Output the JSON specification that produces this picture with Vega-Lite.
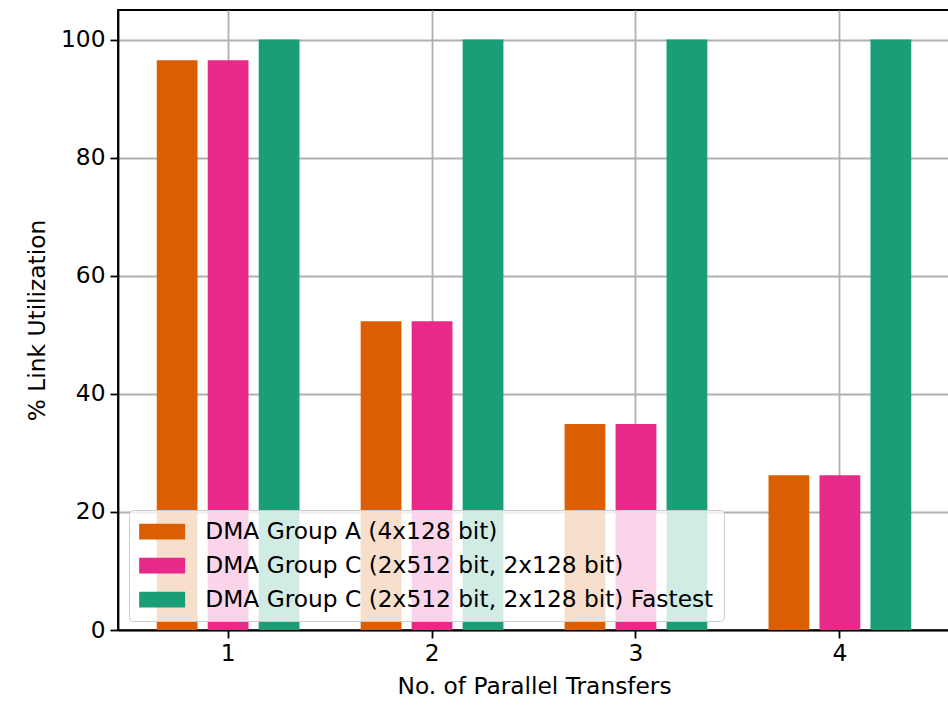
{
  "$schema": "https://vega.github.io/schema/vega-lite/v6.json",
  "width": 832,
  "height": 620,
  "autosize": "none",
  "padding": {"left": 118, "top": 10, "right": 0, "bottom": 77},
  "background": "white",
  "data": {
    "values": [
      {"n": 1, "series": "DMA Group A (4x128 bit)", "value": 96.5},
      {"n": 1, "series": "DMA Group C (2x512 bit, 2x128 bit)", "value": 96.5},
      {"n": 1, "series": "DMA Group C (2x512 bit, 2x128 bit) Fastest", "value": 100},
      {"n": 2, "series": "DMA Group A (4x128 bit)", "value": 52.3},
      {"n": 2, "series": "DMA Group C (2x512 bit, 2x128 bit)", "value": 52.3},
      {"n": 2, "series": "DMA Group C (2x512 bit, 2x128 bit) Fastest", "value": 100},
      {"n": 3, "series": "DMA Group A (4x128 bit)", "value": 34.9},
      {"n": 3, "series": "DMA Group C (2x512 bit, 2x128 bit)", "value": 34.9},
      {"n": 3, "series": "DMA Group C (2x512 bit, 2x128 bit) Fastest", "value": 100},
      {"n": 4, "series": "DMA Group A (4x128 bit)", "value": 26.2},
      {"n": 4, "series": "DMA Group C (2x512 bit, 2x128 bit)", "value": 26.2},
      {"n": 4, "series": "DMA Group C (2x512 bit, 2x128 bit) Fastest", "value": 100}
    ]
  },
  "mark": {"type": "bar"},
  "encoding": {
    "x": {
      "field": "n",
      "type": "ordinal",
      "scale": {"paddingInner": 0, "paddingOuter": 0.04},
      "axis": {
        "title": "No. of Parallel Transfers",
        "labelAngle": 0,
        "bandPosition": 0.5,
        "grid": true,
        "labelPadding": 4,
        "titlePadding": 11
      }
    },
    "xOffset": {
      "field": "series",
      "type": "nominal",
      "sort": ["DMA Group A (4x128 bit)", "DMA Group C (2x512 bit, 2x128 bit)", "DMA Group C (2x512 bit, 2x128 bit) Fastest"],
      "scale": {"paddingInner": 0.2, "paddingOuter": 0.6}
    },
    "y": {
      "field": "value",
      "type": "quantitative",
      "scale": {"domain": [0, 105], "nice": false},
      "axis": {
        "title": "% Link Utilization",
        "values": [0, 20, 40, 60, 80, 100],
        "grid": true,
        "labelPadding": 5,
        "titlePadding": 11
      }
    },
    "color": {
      "field": "series",
      "type": "nominal",
      "sort": ["DMA Group A (4x128 bit)", "DMA Group C (2x512 bit, 2x128 bit)", "DMA Group C (2x512 bit, 2x128 bit) Fastest"],
      "scale": {"range": ["#d95f02", "#e7298a", "#1b9e77"]},
      "legend": {
        "title": null,
        "orient": "none",
        "legendX": 11,
        "legendY": 500,
        "fillColor": "rgba(255,255,255,0.8)",
        "strokeColor": "#cccccc",
        "cornerRadius": 4,
        "padding": 10,
        "symbolType": "M-1,-0.68H3V0.68H-1Z",
        "symbolSize": 529,
        "symbolStrokeWidth": 0,
        "symbolOpacity": 1,
        "labelFontSize": 23.3,
        "labelFont": "DejaVu Sans",
        "labelColor": "#000000",
        "labelOffset": 43,
        "rowPadding": 10,
        "labelLimit": 1000
      }
    }
  },
  "config": {
    "font": "DejaVu Sans",
    "view": {"stroke": "#000000", "strokeWidth": 1.8},
    "axis": {
      "zindex": 1,
      "labelFont": "DejaVu Sans",
      "titleFont": "DejaVu Sans",
      "labelFontSize": 23.3,
      "titleFontSize": 23.3,
      "titleFontWeight": "normal",
      "labelColor": "#000000",
      "titleColor": "#000000",
      "domainColor": "#000000",
      "domainWidth": 1.8,
      "tickColor": "#000000",
      "tickWidth": 1.8,
      "tickSize": 8,
      "gridColor": "#b0b0b0",
      "gridWidth": 1.8,
      "gridOpacity": 1
    }
  }
}
